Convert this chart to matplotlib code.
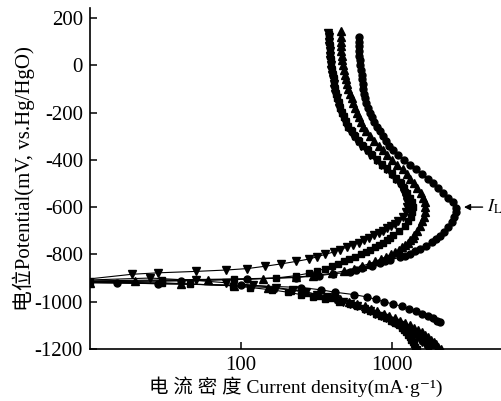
import matplotlib
matplotlib.use("Agg")
import matplotlib.pyplot as plt

plt.rcParams['font.family'] = ['Liberation Serif', 'Noto Sans CJK SC', 'DejaVu Serif']
plt.rcParams['mathtext.fontset'] = 'stix'
plt.rcParams['axes.unicode_minus'] = False

# Potential (mV) and current density (mA/g),
# each series runs from the cathodic end up to the anodic end

# circles
circ_E = [-1086, -1080, -1070, -1060, -1050, -1040, -1030, -1020, -1010, -1000,
          -990, -980, -970, -960, -950, -940, -930, -924, -920, -916,
          -912, -905, -898, -890, -882, -876, -866, -856, -848, -838,
          -830, -822, -813, -805, -797, -787, -776, -765, -749, -735,
          -721, -705, -685, -665, -643, -622, -602, -580, -560, -540,
          -520, -500, -480, -460, -440, -420, -400, -380, -360, -340,
          -320, -300, -280, -260, -240, -220, -200, -180, -160, -140,
          -120, -100, -80, -60, -40, -20, 0, 20, 40, 60, 80, 100, 120]
circ_I = [2080, 2000, 1860, 1720, 1590, 1450, 1300, 1170, 1020, 880,
          780, 680, 560, 420, 340, 250, 100, 28, 15, 3,
          40, 110, 230, 330, 406, 527, 580, 630, 734, 833,
          900, 970, 1130, 1220, 1315, 1420, 1531, 1680, 1832, 1950,
          2080, 2220, 2350, 2480, 2575, 2650, 2650, 2520, 2350, 2180,
          2010, 1860, 1730, 1575, 1440, 1315, 1205, 1100, 1020, 955,
          915, 875, 833, 795, 760, 735, 714, 690, 670, 662,
          655, 645, 640, 635, 630, 625, 618, 614, 605, 600, 600, 600, 600]

# down triangles
dtri_E = [-1200, -1190, -1180, -1170, -1160, -1150, -1140, -1130, -1120, -1110,
          -1100, -1090, -1080, -1070, -1060, -1050, -1040, -1030, -1020, -1010,
          -1000, -990, -980, -970, -960, -950, -940, -930, -920, -910,
          -900, -910,
          -884, -878, -872, -866, -860, -850, -840, -830, -820,
          -810, -800, -790, -780, -770, -760, -750, -740, -730, -720,
          -710, -700, -690, -680, -670, -660, -640, -620, -600, -580,
          -560, -540, -520, -500, -480, -460, -440, -420, -400, -380,
          -360, -340, -320, -300, -280, -260, -240, -220, -200, -180,
          -160, -140, -120, -100, -80, -60, -40, -20, 0, 20,
          40, 60, 80, 100, 120, 136]
dtri_I = [1760, 1700, 1650, 1590, 1530, 1470, 1400, 1330, 1260, 1190,
          1120, 1050, 980, 910, 840, 775, 710, 650, 590, 530,
          470, 420, 370, 320, 270, 220, 170, 120, 80, 50,
          25, 8,
          19, 28, 50, 80, 110, 145, 185, 230, 280,
          320, 360, 410, 450, 500, 550, 600, 650, 700, 760,
          820, 870, 920, 980, 1040, 1100, 1180, 1230, 1260, 1260,
          1240, 1200, 1160, 1110, 1050, 980, 910, 840, 780, 720,
          670, 625, 585, 555, 530, 505, 488, 472, 460, 448,
          438, 430, 422, 416, 410, 404, 400, 396, 392, 390,
          388, 386, 384, 382, 380, 378]

# squares
sq_E = [-1200, -1190, -1180, -1170, -1160, -1150, -1140, -1130, -1120, -1110,
        -1100, -1090, -1080, -1070, -1060, -1050, -1040, -1030, -1020, -1010,
        -1000, -990, -980, -970, -960, -950, -940, -933, -925, -920, -916,
        -912, -908, -904, -900, -890, -880, -870, -860, -850, -840,
        -830, -820, -810, -800, -790, -780, -770, -760, -750, -740,
        -730, -720, -700, -680, -660, -640, -620, -600, -580, -560,
        -540, -520, -500, -480, -460, -440, -420, -400, -380, -360,
        -340, -320, -300, -280, -260, -240, -220, -200, -180, -160,
        -140, -120, -100, -80, -60, -40, -20, 0, 20, 40,
        60, 80, 100, 120, 130]
sq_I = [1460, 1430, 1400, 1370, 1340, 1310, 1275, 1240, 1200, 1160,
        1115, 1050, 980, 910, 850, 785, 720, 660, 590, 530,
        445, 360, 300, 250, 205, 160, 115, 88, 46, 30, 4,
        10, 30, 90, 170, 230, 280, 320, 360, 400, 440,
        480, 520, 570, 620, 670, 720, 770, 820, 870, 920,
        970, 1020, 1120, 1210, 1280, 1330, 1360, 1370, 1350, 1310,
        1260, 1200, 1140, 1070, 1000, 930, 860, 800, 740, 690,
        645, 605, 570, 540, 515, 495, 478, 465, 453, 443,
        435, 428, 421, 415, 410, 405, 400, 396, 393, 390,
        388, 386, 384, 383, 382]

# up triangles
utri_E = [-1200, -1190, -1180, -1170, -1160, -1150, -1140, -1130, -1120, -1110,
          -1100, -1090, -1080, -1070, -1060, -1050, -1040, -1030, -1020, -1010,
          -1000, -990, -980, -970, -960, -950, -940, -932, -925, -920, -917,
          -914, -908, -902, -896, -890, -880, -870, -860, -850, -840,
          -830, -820, -810, -800, -790, -780, -770, -760, -750, -740,
          -730, -720, -700, -680, -660, -640, -620, -600, -580, -560,
          -540, -520, -500, -480, -460, -440, -420, -400, -380, -360,
          -340, -320, -300, -280, -260, -240, -220, -200, -180, -160,
          -140, -120, -100, -80, -60, -40, -20, 0, 20, 40,
          60, 80, 100, 120, 145]
utri_I = [2100, 2030, 1960, 1890, 1820, 1740, 1660, 1575, 1490, 1400,
          1310, 1220, 1130, 1045, 960, 880, 800, 730, 660, 590,
          520, 450, 390, 330, 270, 210, 150, 90, 40, 10, 2,
          20, 60, 140, 230, 300, 400, 480, 560, 630, 700,
          770, 840, 910, 980, 1045, 1110, 1165, 1220, 1270, 1320,
          1370, 1400, 1460, 1530, 1590, 1630, 1660, 1665, 1650, 1610,
          1560, 1470, 1390, 1320, 1260, 1180, 1080, 1000, 930, 870,
          820, 760, 710, 675, 645, 620, 600, 583, 568, 553,
          540, 528, 515, 505, 495, 487, 480, 474, 469, 465,
          462, 460, 459, 458, 457]

fig = plt.figure(figsize=(5.02, 4.01), dpi=100)
ax = fig.add_axes([0.1793, 0.1297, 0.8207, 0.8504])

ax.plot(sq_I, sq_E, color='k', lw=0.8, marker='s', ms=4.5)
ax.plot(utri_I, utri_E, color='k', lw=0.8, marker='^', ms=5.5)
ax.plot(dtri_I, dtri_E, color='k', lw=0.8, marker='v', ms=5.5)
ax.plot(circ_I, circ_E, color='k', lw=0.8, marker='o', ms=5)

ax.set_xscale('log')
ax.set_xlim(10, 5350)
ax.set_ylim(-1200, 242)
ax.set_xticks([100, 1000])
ax.set_xticklabels(['100', '1000'])
ax.minorticks_off()
ax.set_yticks(range(-1200, 201, 200))

for s in ['top', 'right']:
    ax.spines[s].set_visible(False)
for s in ['left', 'bottom']:
    ax.spines[s].set_linewidth(1.2)
ax.tick_params(direction='in', length=5, width=1.1, labelsize=15, pad=5)

ax.set_xlabel('电 流 密 度 Current density(mA·g⁻¹)', fontsize=14, labelpad=1)
ax.set_ylabel('电位Potential(mV, vs.Hg/HgO)', fontsize=15, labelpad=0)

ax.annotate('', xy=(2870, -600), xytext=(4150, -600),
            arrowprops=dict(arrowstyle='-|>', color='k', lw=1, mutation_scale=9))
ax.text(4250, -600, r'$I_{\mathrm{L}}$', fontsize=13, va='center', ha='left')

fig.savefig('out.png', dpi=100)
